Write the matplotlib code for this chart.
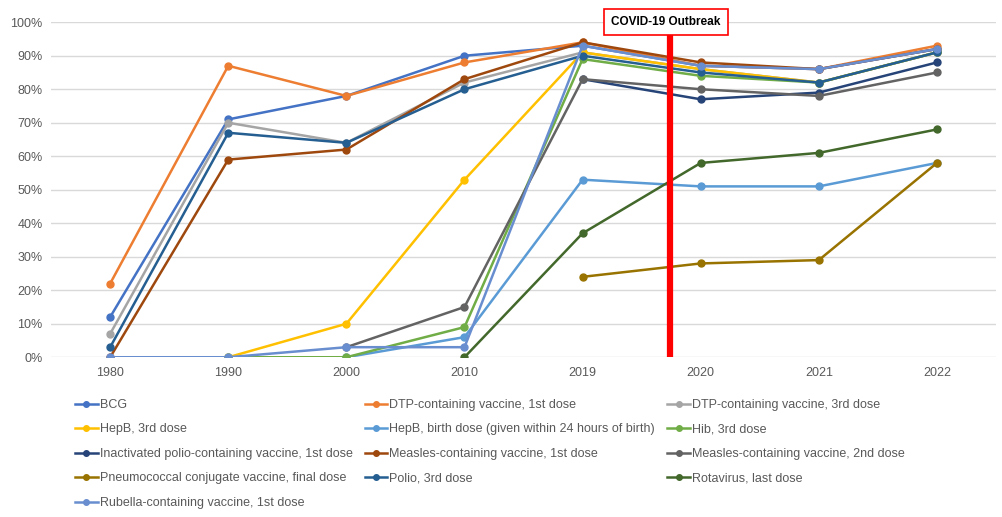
import matplotlib
matplotlib.use("Agg")
import matplotlib.pyplot as plt
from matplotlib.ticker import PercentFormatter
import numpy as np

plt.rcParams['font.family'] = ['Liberation Sans', 'DejaVu Sans']

nan = np.nan
years = ['1980', '1990', '2000', '2010', '2019', '2020', '2021', '2022']

bcg = [12, 71, 78, 90, 93, 87, 86, 92]
dtp1 = [22, 87, 78, 88, 94, 87, 86, 93]
dtp3 = [7, 70, 64, 82, 91, 86, 82, 91]
hepb3 = [nan, 0, 10, 53, 91, 86, 82, 91]
hepb_birth = [nan, nan, 0, 6, 53, 51, 51, 58]
hib = [nan, 0, 0, 9, 89, 84, 82, 91]
ipv1 = [nan, nan, nan, nan, 83, 77, 79, 88]
measles1 = [0, 59, 62, 83, 94, 88, 86, 92]
measles2 = [nan, nan, 3, 15, 83, 80, 78, 85]
pcv = [nan, nan, nan, nan, 24, 28, 29, 58]
polio3 = [3, 67, 64, 80, 90, 85, 82, 91]
rota = [nan, nan, nan, 0, 37, 58, 61, 68]
rubella1 = [0, 0, 3, 3, 93, 87, 86, 92]

series = [
    ('BCG', bcg, '#4472C4'),
    ('DTP-containing vaccine, 1st dose', dtp1, '#ED7D31'),
    ('DTP-containing vaccine, 3rd dose', dtp3, '#A5A5A5'),
    ('HepB, 3rd dose', hepb3, '#FFC000'),
    ('HepB, birth dose (given within 24 hours of birth)', hepb_birth, '#5B9BD5'),
    ('Hib, 3rd dose', hib, '#70AD47'),
    ('Inactivated polio-containing vaccine, 1st dose', ipv1, '#264478'),
    ('Measles-containing vaccine, 1st dose', measles1, '#9E480E'),
    ('Measles-containing vaccine, 2nd dose', measles2, '#636363'),
    ('Pneumococcal conjugate vaccine, final dose', pcv, '#997300'),
    ('Polio, 3rd dose', polio3, '#255E91'),
    ('Rotavirus, last dose', rota, '#43682B'),
    ('Rubella-containing vaccine, 1st dose', rubella1, '#698ED0'),
]

# covid marker sits between 2019 and 2020 on the category axis
covid_pos = 4.74
covid_label = 'COVID-19 Outbreak'

fig = plt.figure(figsize=(10.02, 5.17), dpi=100)
ax = fig.add_axes([0.051, 0.309, 0.943, 0.648])

x = np.arange(len(years))
for name, vals, col in series:
    ax.plot(x, vals, color=col, lw=1.8, marker='o', ms=5, label=name, zorder=3)

ax.set_xlim(-0.5, len(years) - 0.5)
ax.set_ylim(0, 100)
ax.set_yticks(np.arange(0, 101, 10))
ax.yaxis.set_major_formatter(PercentFormatter(decimals=0))
ax.set_xticks(x)
ax.set_xticklabels(years)
ax.tick_params(length=0, colors='#595959', labelsize=9)
ax.tick_params(axis='x', pad=7)
ax.tick_params(axis='y', pad=6)
ax.grid(axis='y', color='#D9D9D9', lw=1)
ax.set_axisbelow(True)
for s in ax.spines.values():
    s.set_visible(False)

ax.plot([covid_pos, covid_pos], [0, 100], color='#FF0000', lw=4.5, zorder=4,
        solid_capstyle='butt')
ax.text(covid_pos - 0.035, 100, covid_label, ha='center', va='center',
        fontsize=8.5, fontweight='bold', color='black', zorder=6, clip_on=False,
        bbox=dict(boxstyle='square,pad=0.6', fc='white', ec='#FF0000', lw=1.2))

# legend filled row by row, three columns
handles, labels = ax.get_legend_handles_labels()
order = [0, 3, 6, 9, 12, 1, 4, 7, 10, 2, 5, 8, 11]
leg = fig.legend([handles[i] for i in order], [labels[i] for i in order],
                 loc='upper left', bbox_to_anchor=(0.07, 0.238), ncol=3,
                 frameon=False, fontsize=9, handlelength=1.8,
                 handletextpad=0.15, columnspacing=1.0, labelspacing=1.0,
                 borderaxespad=0, markerscale=0.8)
for t in leg.get_texts():
    t.set_color('#595959')

fig.savefig('out.png', dpi=100)
